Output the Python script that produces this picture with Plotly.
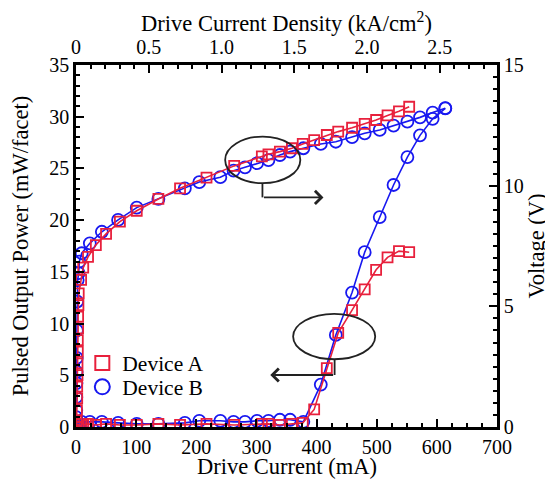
import plotly.graph_objects as go

# ---------------- data ----------------
# Device A (red squares): drive current (mA), voltage (V), power (mW/facet)
current_a = [0.5, 1, 1.5, 2, 2, 2.5, 2.5, 3, 3, 3.5, 3.5, 4, 4.5,
             8.5, 12, 20, 33, 50, 73, 101, 137, 173, 217, 263,
             309, 320, 339, 359, 377,
             396, 417, 436, 459, 480, 499, 518, 537, 554]
voltage_a = [0.0, 0.22, 0.70, 1.19, 1.67, 2.15, 2.64, 3.12, 3.60, 4.09, 4.57, 5.05, 5.54,
             6.1, 6.6, 7.05, 7.54, 8.0, 8.51, 8.96, 9.45, 9.89, 10.33, 10.82,
             11.21, 11.3, 11.41, 11.55, 11.73,
             11.89, 12.10, 12.24, 12.40, 12.56, 12.72, 12.91, 13.08, 13.27]
power_a = [0.2, 0.2, 0.2, 0.2, 0.2, 0.2, 0.2, 0.2, 0.2, 0.2, 0.2, 0.2, 0.2,
           0.3, 0.2, 0.3, 0.2, 0.3, 0.2, 0.2, 0.3, 0.2, 0.3, 0.2,
           0.3, 0.3, 0.2, 0.3, 0.4,
           1.7, 5.7, 9.1, 11.3, 13.3, 15.2, 16.4, 17.0, 16.9]

# Device B (blue circles)
current_b = [0, 0.3, 0.5, 0.6, 0.8, 1, 1.2, 1.5, 2,
             2.8, 4.4, 5.5, 9.5,
             23, 43, 70, 101, 137, 181, 205,
             240, 262, 281, 301, 320, 339, 356, 378,
             407, 432, 459, 480, 505, 528, 551, 572, 593, 614]
voltage_b = [0, 0.41, 0.70, 1.24, 1.82, 2.28, 2.86, 4.0, 5.2,
             6.09, 6.38, 6.85, 7.2,
             7.61, 8.09, 8.58, 9.09, 9.45, 9.89, 10.15,
             10.35, 10.62, 10.76, 10.93, 11.06, 11.27, 11.41, 11.55,
             11.73, 11.82, 12.01, 12.17, 12.31, 12.49, 12.65, 12.83, 13.03, 13.21]
power_b = [0.2, 0.2, 0.2, 0.2, 0.2, 0.2, 0.2, 0.2, 0.2,
           0.2, 0.2, 0.2, 0.5,
           0.5, 0.5, 0.4, 0.3, 0.3, 0.4, 0.6,
           0.6, 0.5, 0.5, 0.6, 0.6, 0.7, 0.7, 0.5,
           4.1, 8.9, 13.0, 16.9, 20.3, 23.4, 26.1, 28.2, 29.8, 30.8]

series_names = ["Device A", "Device B"]

# axes
current_range = [0, 700]
power_range = [0, 35]
voltage_range = [0, 15]
ma_per_kacm2 = 242.0
density_tickvals = [0, 0.5, 1.0, 1.5, 2.0, 2.5]
density_ticktext = ["0", "0.5", "1.0", "1.5", "2.0", "2.5"]
x_title = "Drive Current (mA)"

RED = "#e8203c"
BLUE = "#1818f0"
FONT = "'Liberation Serif', 'DejaVu Serif', serif"
TITLE_SIZE = 22.5
TICK_SIZE = 20

fig = go.Figure()

def add_dev(x, yp, yv, color, symbol, size):
    for y, ya in ((yp, "y"), (yv, "y2")):
        fig.add_trace(go.Scatter(
            x=x, y=y, yaxis=ya, xaxis="x", mode="lines+markers",
            line=dict(color=color, width=1.6),
            marker=dict(symbol=symbol, size=size, color=color,
                        line=dict(color=color, width=1.8)),
            showlegend=False, cliponaxis=True))

add_dev(current_b, power_b, voltage_b, BLUE, "circle-open", 12)
add_dev(current_a, power_a, voltage_a, RED, "square-open", 10)

# legend entries (markers only), one legend per device for exact spacing
for name, color, symbol, size, lg in ((series_names[0], RED, "square-open", 14, "legend"),
                                      (series_names[1], BLUE, "circle-open", 15, "legend2")):
    fig.add_trace(go.Scatter(x=[None], y=[None], mode="markers", name=name, legend=lg,
                             marker=dict(symbol=symbol, size=size, color=color,
                                         line=dict(color=color, width=2))))

# top axis anchor trace (invisible)
fig.add_trace(go.Scatter(x=[0, current_range[1] / ma_per_kacm2], y=[None, None],
                         xaxis="x2", yaxis="y", mode="markers", showlegend=False,
                         hoverinfo="skip"))

# annotation ellipses and arrows
line_style = dict(color="#222222", width=1.8)
fig.add_shape(type="circle", xref="x", yref="y", x0=248, x1=373, y0=23.57, y1=28.08,
              line=line_style)
fig.add_shape(type="line", xref="x", yref="y", x0=310, x1=310, y0=23.57, y1=22.2,
              line=line_style)
fig.add_annotation(x=411.5, y=22.2, ax=310, ay=22.2, xref="x", yref="y",
                   axref="x", ayref="y", text="", showarrow=True, arrowhead=4,
                   arrowsize=1.4, arrowwidth=1.8, arrowcolor="#222222", standoff=0)
fig.add_shape(type="circle", xref="x", yref="y", x0=361, x1=497.5, y0=6.55, y1=10.93,
              line=line_style)
fig.add_shape(type="line", xref="x", yref="y", x0=430, x1=430, y0=6.55, y1=5.03,
              line=line_style)
fig.add_annotation(x=323, y=5.03, ax=430, ay=5.03, xref="x", yref="y",
                   axref="x", ayref="y", text="", showarrow=True, arrowhead=4,
                   arrowsize=1.4, arrowwidth=1.8, arrowcolor="#222222", standoff=0)

axis_common = dict(showline=True, linecolor="black", linewidth=2.5, showgrid=False,
                   zeroline=False, ticks="inside", ticklen=8, tickwidth=2,
                   tickcolor="black", tickfont=dict(family=FONT, size=TICK_SIZE, color="black"))
minor_common = dict(ticks="inside", ticklen=4, tickwidth=1.5, tickcolor="black")
title_font = dict(family=FONT, size=TITLE_SIZE, color="black")
legend_common = dict(xanchor="left", yanchor="middle", itemwidth=30,
                     bgcolor="rgba(0,0,0,0)", font=dict(family=FONT, size=21.5),
                     itemsizing="trace")

# bottom axis title as a paper-anchored text, placed just below the tick labels
fig.add_annotation(text=x_title, xref="paper", yref="paper", x=0.5, y=-0.108,
                   xanchor="center", yanchor="middle", showarrow=False,
                   font=title_font)

fig.update_layout(
    width=545, height=472,
    margin=dict(l=68, r=56, t=57, b=53, autoexpand=False),
    paper_bgcolor="white", plot_bgcolor="white",
    font=dict(family=FONT, size=20, color="black"),
    xaxis=dict(range=current_range, dtick=100, tick0=0,
               minor=dict(dtick=25, tick0=0, **minor_common),
               **axis_common),
    xaxis2=dict(range=[0, current_range[1] / ma_per_kacm2], overlaying="x", side="top",
                anchor="y", tickmode="array", tickvals=density_tickvals,
                ticktext=density_ticktext,
                minor=dict(dtick=0.1, tick0=0, **minor_common),
                title=dict(text="Drive Current Density (kA/cm<sup>2</sup>)", standoff=7,
                           font=title_font),
                **axis_common),
    yaxis=dict(range=power_range, dtick=5, tick0=0,
               minor=dict(dtick=1, tick0=0, **minor_common),
               title=dict(text="Pulsed Output Power (mW/facet)", standoff=15,
                          font=title_font),
               **axis_common),
    yaxis2=dict(range=voltage_range, dtick=5, tick0=0, overlaying="y", side="right",
                anchor="x",
                minor=dict(dtick=0.5, tick0=0, **minor_common),
                title=dict(text="Voltage (V)", standoff=5, font=title_font),
                **axis_common),
    legend=dict(x=0.015, y=0.177, **legend_common),
    legend2=dict(x=0.015, y=0.111, **legend_common),
)

fig.write_html("out.html")
